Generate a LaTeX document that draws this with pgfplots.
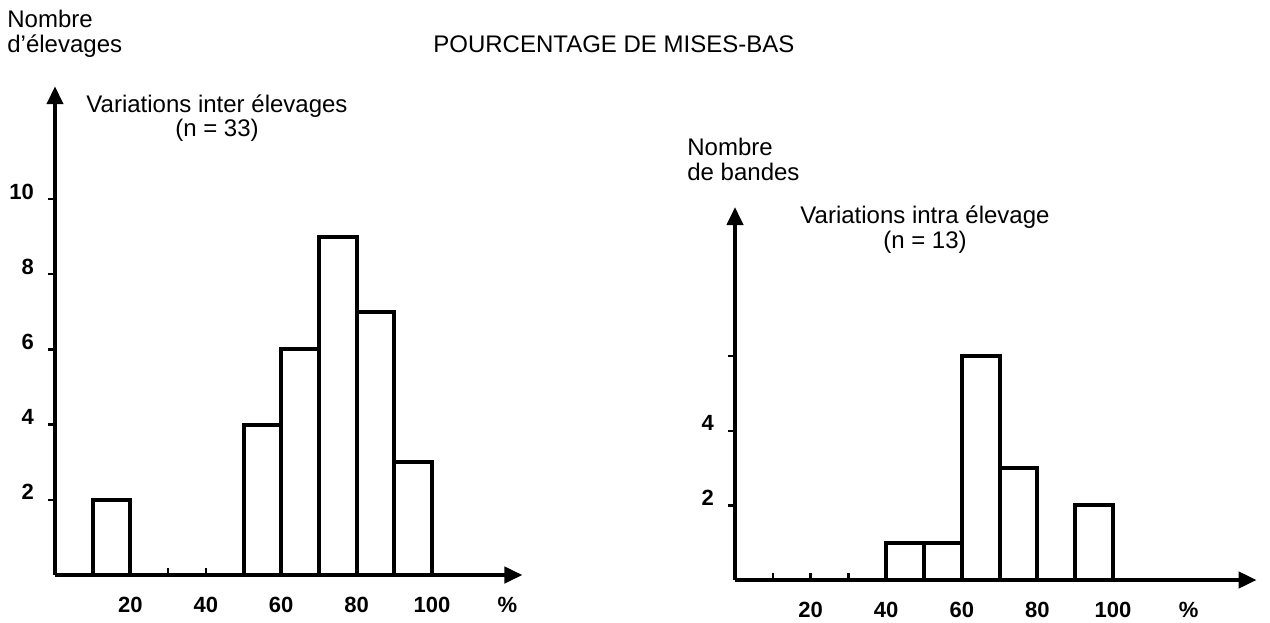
\documentclass[border=0pt]{standalone}
\usepackage{fontspec}
\setmainfont{Liberation Sans}
\usepackage{pgfplots}
\pgfplotsset{compat=1.18}
\usetikzlibrary{arrows.meta}

\pgfplotsset{
  histo/.style={
    axis lines=left,
    axis line style={line width=2pt, -{Triangle[length=9pt,width=8pt]}},
    axis on top,
    xmin=0, ymin=0,
    tick align=inside,
    major tick length=3.5pt,
    tick style={line width=1.2pt, black},
    every major y tick/.append style={xshift=-3.5pt},
    xtick={10,20,...,100},
    xticklabels={,20,,40,,60,,80,,100},
    extra x ticks={120},
    extra x tick labels={\%},
    extra x tick style={major tick length=0pt},
    x tick label style={anchor=base, yshift=-18.5pt, font=\fontsize{11}{13}\selectfont\bfseries},
    y tick label style={anchor=base east, xshift=-7pt, font=\fontsize{11}{13}\selectfont\bfseries},
    /pgf/number format/assume math mode=true,
  },
  bars/.style={ybar interval, draw=black, fill=white, line width=2pt, line join=miter},
}

\begin{document}
\begin{tikzpicture}
\path[use as bounding box] (0,0) rectangle (635pt,-311pt);

% Left histogram
\begin{axis}[histo,
  at={(27.5pt,-287.5pt)}, anchor=south west,
  x=1.885pt, y=18.8pt,
  xmax=124, ymax=13,
  ytick={2,4,6,8,10}]
  \addplot[bars] coordinates {(10,2) (20,2)};
  \addplot[bars] coordinates {(50,4) (60,6) (70,9) (80,7) (90,3) (100,3)};
\end{axis}

% Right histogram
\begin{axis}[histo,
  at={(367.5pt,-290pt)}, anchor=south west,
  x=1.89pt, y=18.65pt,
  xmax=138, ymax=10,
  ytick={2,4,6}, yticklabels={2,4,{}}]
  \addplot[bars] coordinates {(40,1) (50,1) (60,6) (70,3) (80,3)};
  \addplot[bars] coordinates {(90,2) (100,2)};
\end{axis}

\begin{scope}[every node/.style={font=\fontsize{12}{14}\selectfont, inner sep=0pt}]
\node[anchor=base west] at (3.5pt,-13.5pt) {Nombre};
\node[anchor=base west] at (3.5pt,-26pt) {d'élevages};
\node[anchor=base west] at (216.5pt,-26pt) {POURCENTAGE DE MISES-BAS};
\node[anchor=base] at (108.5pt,-56pt) {Variations inter élevages};
\node[anchor=base] at (108.5pt,-68pt) {(n = 33)};
\node[anchor=base west] at (343.5pt,-77.5pt) {Nombre};
\node[anchor=base west] at (343.5pt,-90pt) {de bandes};
\node[anchor=base] at (462.5pt,-111.5pt) {Variations intra élevage};
\node[anchor=base] at (462.5pt,-124pt) {(n = 13)};
\end{scope}
\end{tikzpicture}
\end{document}
